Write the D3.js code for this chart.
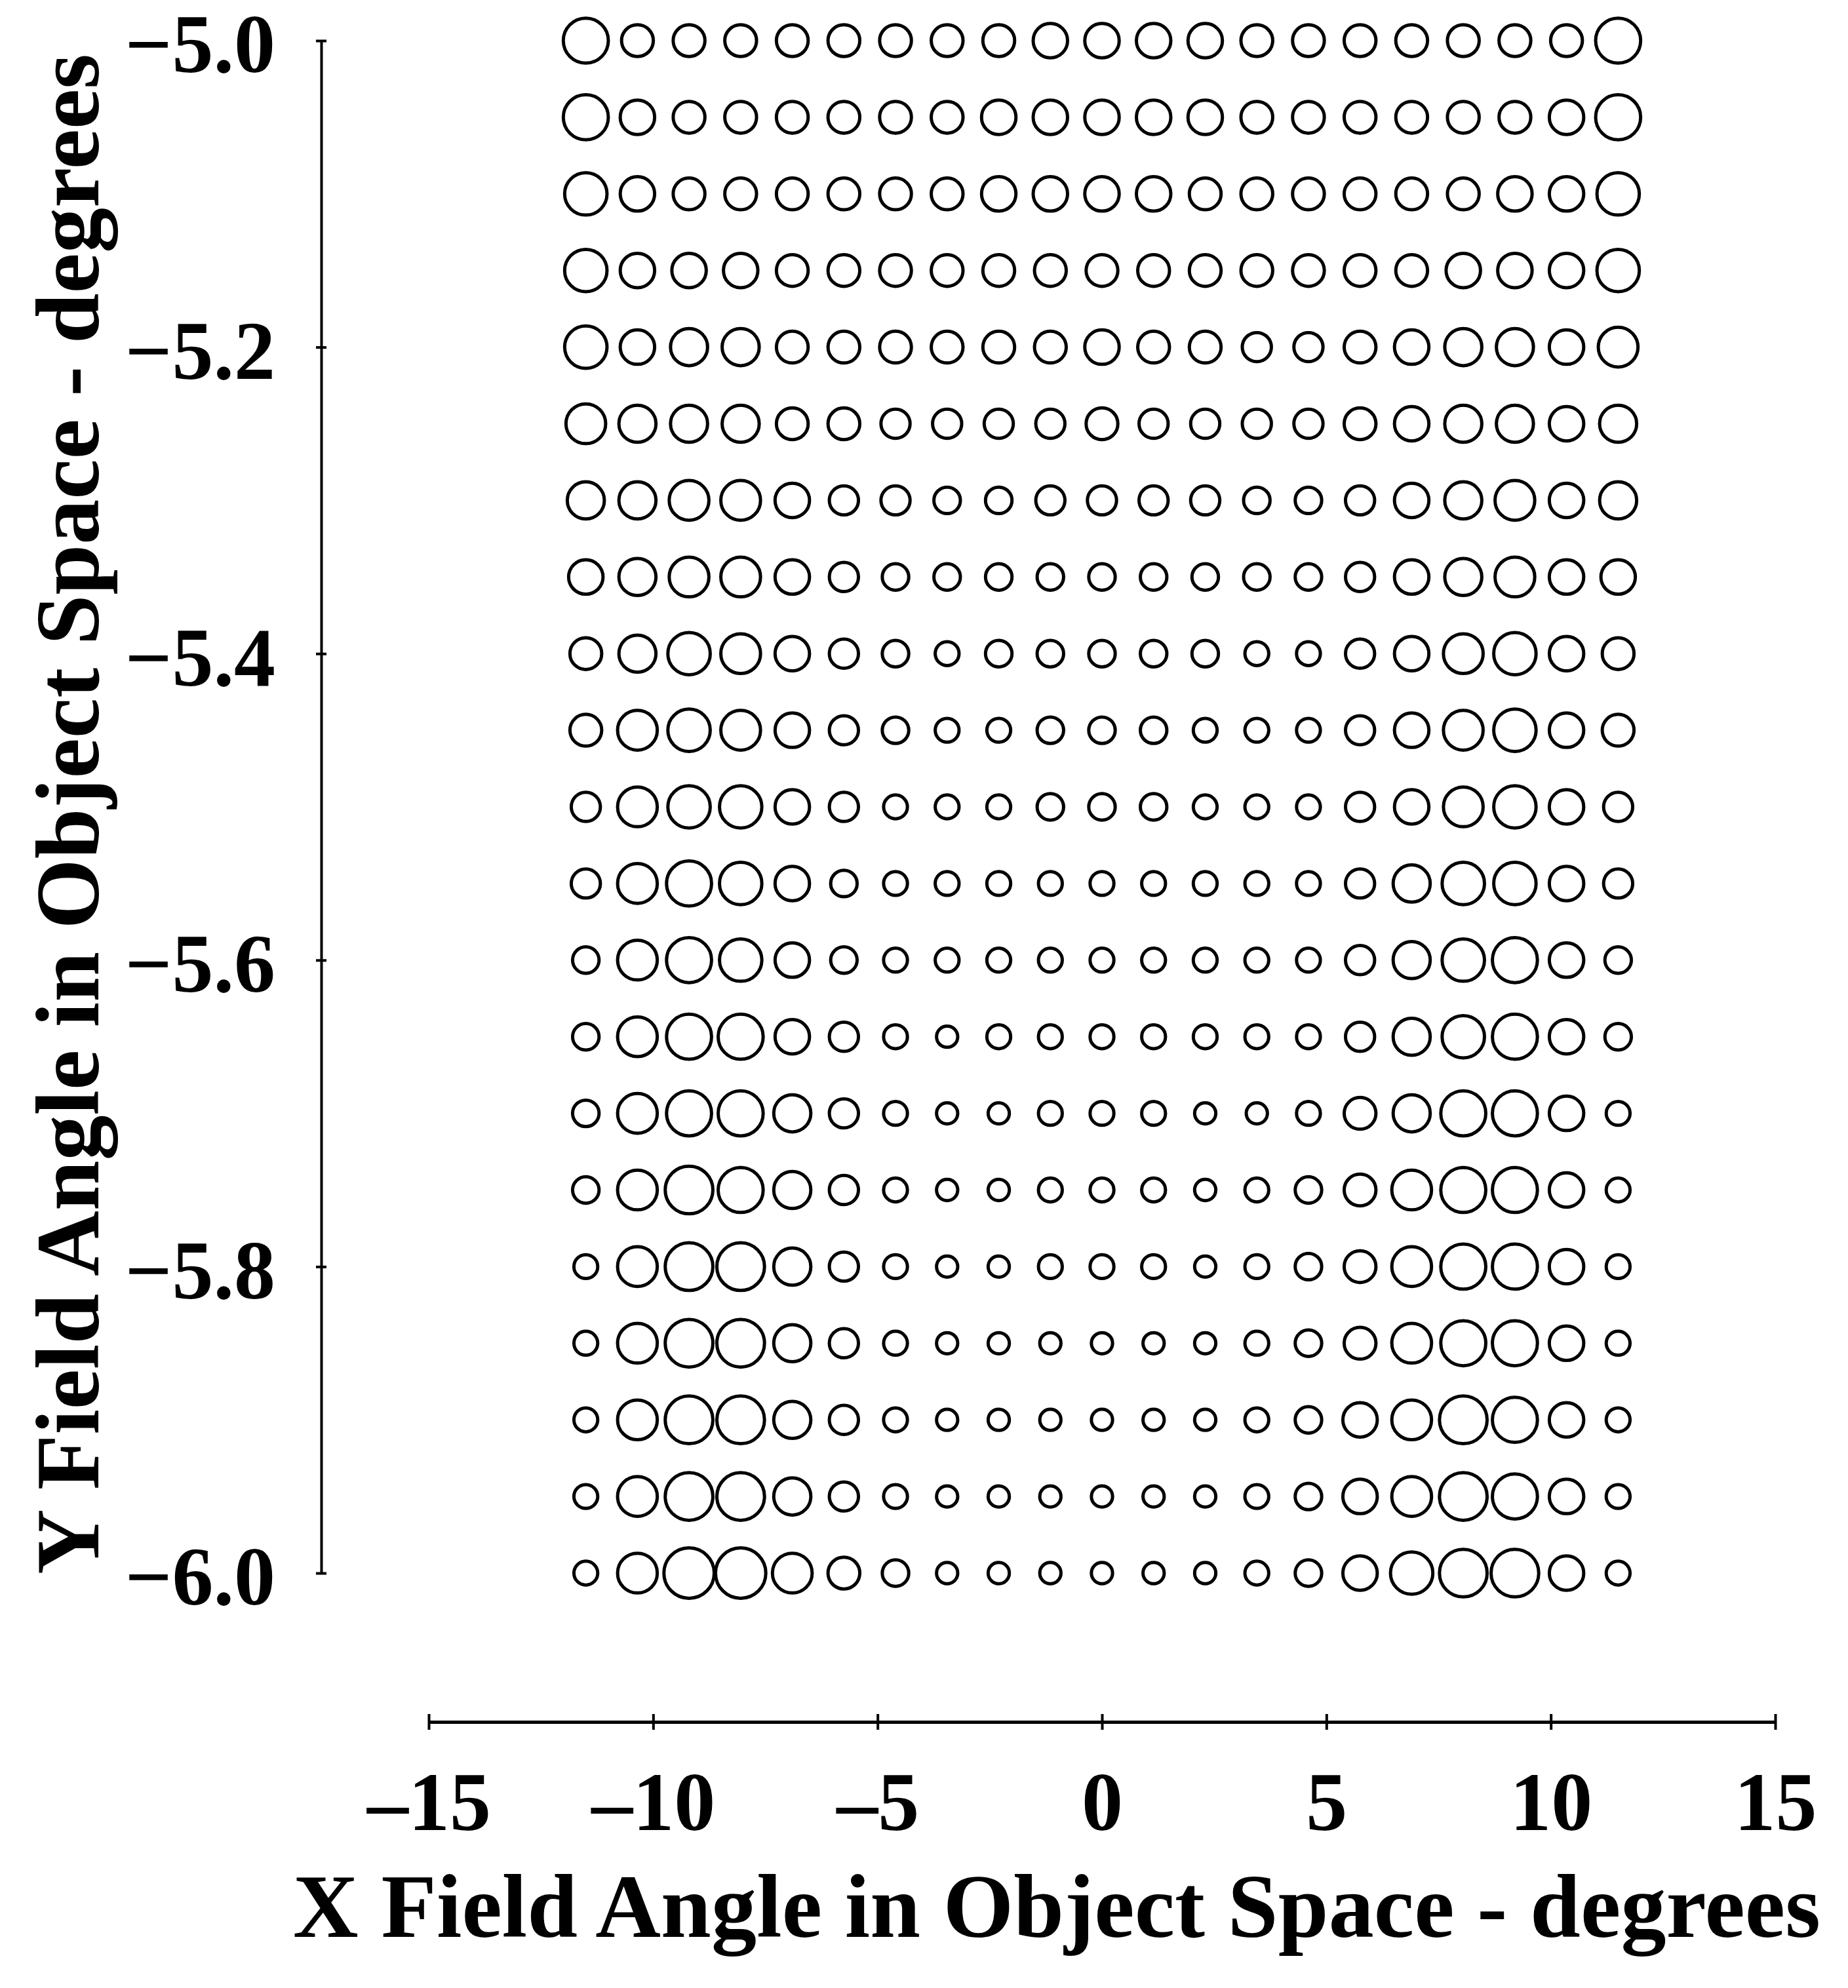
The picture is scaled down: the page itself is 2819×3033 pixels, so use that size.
<!DOCTYPE html>
<html>
<head>
<meta charset="utf-8">
<script src="https://cdn.jsdelivr.net/npm/d3@7"></script>
<style>
body { margin: 0; background: #fff; }
text { font-family: "Liberation Serif", "DejaVu Serif", serif; font-weight: bold; fill: #000; }
</style>
</head>
<body>
<svg id="chart" width="2819" height="3033"></svg>
<script>
// spot grid: x field angles (columns) and y field angles (rows)
var xFields = [-11.5,-10.35,-9.2,-8.05,-6.9,-5.75,-4.6,-3.45,-2.3,-1.15,0,1.15,2.3,3.45,4.6,5.75,6.9,8.05,9.2,10.35,11.5];
var yFields = [-5.0,-5.05,-5.1,-5.15,-5.2,-5.25,-5.3,-5.35,-5.4,-5.45,-5.5,-5.55,-5.6,-5.65,-5.7,-5.75,-5.8,-5.85,-5.9,-5.95,-6.0];
// relative spot size per row (one row per y field)
var spotSize = [
 [17,12,12,12,12,12,12,12,12,13,13,13,13,12,12,12,12,12,12,12,17],
 [17,13,12,12,12,12,12,12,13,13,13,13,13,12,12,12,12,12,12,13,17],
 [16,13,12,12,12,12,12,12,13,13,13,13,12,12,12,12,12,12,13,13,16],
 [16,13,13,13,12,12,12,12,12,12,12,12,12,12,12,12,12,13,13,13,16],
 [16,13,14,14,12,12,12,12,12,12,13,12,12,11,11,12,13,14,14,13,15],
 [15,14,14,14,12,12,11,11,11,11,12,11,11,11,11,12,13,14,14,13,14],
 [14,14,15,15,13,11,11,10,10,11,11,11,11,10,10,11,13,14,15,13,14],
 [13,14,15,15,13,11,10,10,10,10,10,10,10,10,10,11,13,14,15,13,13],
 [12,14,16,15,13,11,10,9,10,10,10,10,10,9,9,11,13,15,16,13,12],
 [12,15,16,15,13,11,10,9,9,10,10,10,9,9,9,11,13,15,16,13,12],
 [11,15,16,16,13,11,9,9,9,10,10,10,9,9,9,11,13,15,16,13,11],
 [11,15,17,16,13,10,9,9,9,9,9,9,9,9,9,11,14,16,16,13,11],
 [10,15,17,16,13,10,9,9,9,9,9,9,9,9,9,11,14,16,17,13,10],
 [10,15,17,17,13,11,9,8,9,9,9,9,9,9,9,11,14,16,17,13,10],
 [10,15,17,17,14,11,9,8,8,9,9,9,8,8,9,12,14,17,17,13,9],
 [10,15,18,17,14,11,9,8,8,9,9,9,8,9,10,12,15,17,17,13,9],
 [9,15,18,18,14,11,9,8,8,9,9,9,8,9,10,12,15,17,17,13,9],
 [9,15,18,18,14,11,9,8,8,8,8,8,8,9,10,12,15,17,17,13,9],
 [9,15,18,18,14,11,9,8,8,8,8,8,8,9,10,13,15,18,17,13,9],
 [9,15,18,18,14,11,9,8,8,8,8,8,8,9,10,13,15,18,17,13,9],
 [9,15,19,19,15,12,10,8,8,8,8,8,8,9,10,13,16,18,18,13,9]
];
var xTicks = [-15,-10,-5,0,5,10,15];
var yTicks = [-5.0,-5.2,-5.4,-5.6,-5.8,-6.0];

var svg = d3.select("#chart");
var x = d3.scaleLinear().domain([-15, 15]).range([654, 2708]);
var y = d3.scaleLinear().domain([-5.0, -6.0]).range([62, 2400]);
var r = d3.scaleLinear().domain([0, 10]).range([0, 20.2]);

var fmtMinus = function(s){ return s.replace("-", "\u2013"); };

// y axis
var yAxis = svg.append("g").attr("transform", "translate(490,0)")
  .call(d3.axisLeft(y).tickValues(yTicks).tickSize(16).tickSizeOuter(0)
    .tickFormat(function(d){ return fmtMinus(d3.format(".1f")(d)); }));
yAxis.select(".domain").attr("stroke-width", 4);
yAxis.selectAll(".tick line").attr("stroke-width", 4).attr("transform", "translate(8,0)");
yAxis.selectAll(".tick text").attr("font-size", 126).attr("x", -70).attr("dy", "0.38em");

// x axis
var xAxis = svg.append("g").attr("transform", "translate(0,2627)")
  .call(d3.axisBottom(x).tickValues(xTicks).tickSize(24).tickSizeOuter(0)
    .tickFormat(function(d){ return fmtMinus(String(d)); }));
xAxis.select(".domain").attr("stroke-width", 5);
xAxis.selectAll(".tick line").attr("stroke-width", 4).attr("transform", "translate(0,-12)");
xAxis.selectAll(".tick text").attr("font-size", 126).attr("y", 165).attr("dy", 0);

// spots
var cells = [];
yFields.forEach(function(yv, i){
  xFields.forEach(function(xv, j){ cells.push({x: xv, y: yv, s: spotSize[i][j]}); });
});
svg.append("g").selectAll("circle").data(cells).enter().append("circle")
  .attr("cx", function(d){ return x(d.x); })
  .attr("cy", function(d){ return y(d.y); })
  .attr("r", function(d){ return r(d.s); })
  .attr("fill", "none").attr("stroke", "#000").attr("stroke-width", 5);

// titles
svg.append("text").attr("x", 1612).attr("y", 2955).attr("text-anchor", "middle")
  .attr("font-size", 138).attr("textLength", 2330)
  .text("X Field Angle in Object Space  -  degrees");
svg.append("text").attr("transform", "translate(150,1242) rotate(-90)")
  .attr("text-anchor", "middle").attr("font-size", 138).attr("textLength", 2320)
  .text("Y Field Angle in Object Space  -  degrees");
</script>
</body>
</html>
